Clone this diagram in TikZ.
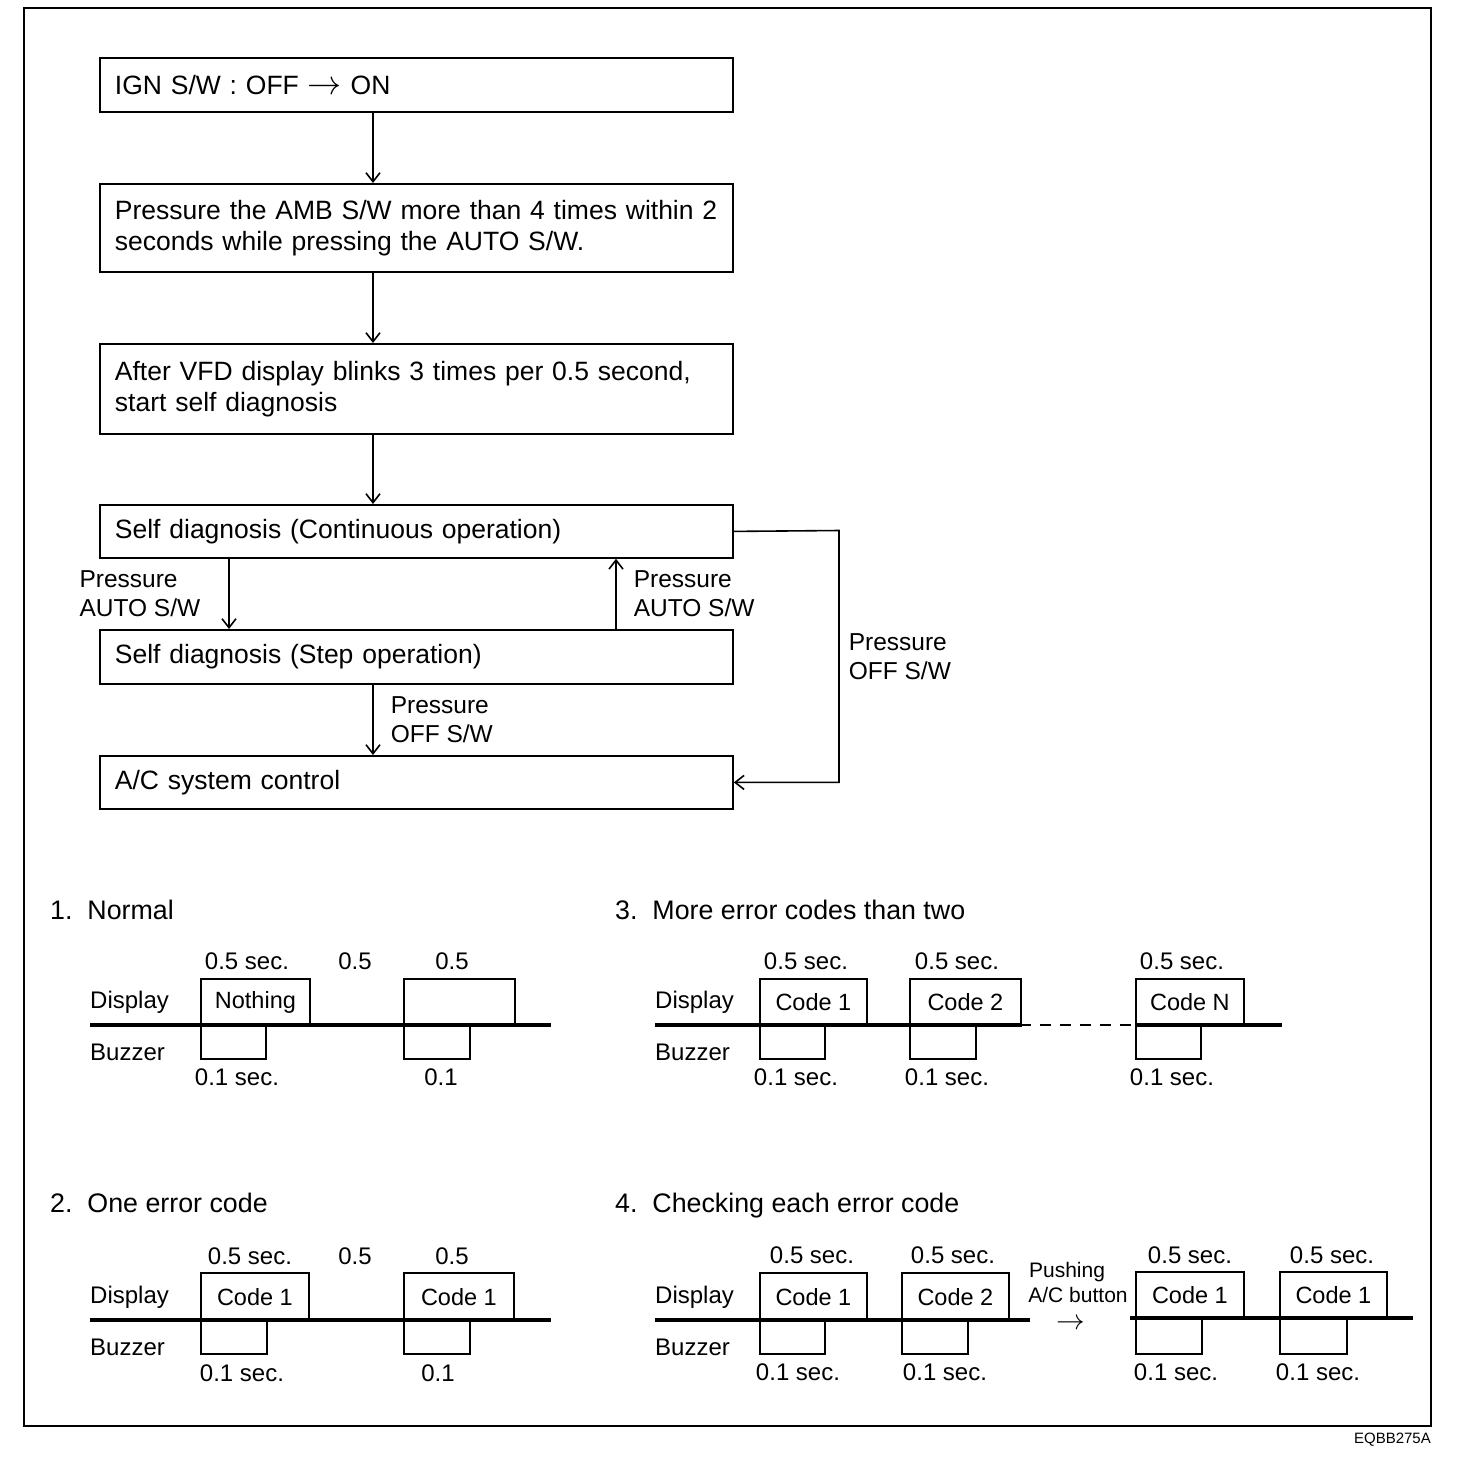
\documentclass[tikz,border=0pt]{standalone}
\usepackage{graphicx}
\usepackage{fontspec}
\setmainfont{Liberation Sans}
\usepackage{tikz}
\usetikzlibrary{arrows.meta,positioning,calc}

\begin{document}
\begin{tikzpicture}[x=1pt,y=-1pt,
  flowbox/.style={rectangle,draw,line width=1.8pt,anchor=north west,minimum height=54pt,text width=603pt,inner xsep=15pt,align=left,font=\fontsize{26.5}{31.5}\selectfont},
  arr/.style={-{Straight Barb[length=9pt,width=14pt,line width=1.6pt]},line width=1.6pt},
  lbl/.style={align=left,inner sep=0pt,font=\fontsize{24.5}{29}\selectfont},
  head/.style={anchor=west,inner sep=0pt,text height=19pt,text depth=0pt,font=\fontsize{26.8}{30}\selectfont},
  tlbl/.style={inner sep=0pt,text height=17pt,text depth=0pt,font=\fontsize{24}{28}\selectfont},
  note/.style={inner sep=0pt,text height=15pt,text depth=0pt,font=\fontsize{21}{25}\selectfont},
  disp/.style={rectangle,draw,line width=1.8pt,anchor=north west,minimum height=47pt,inner sep=0pt,font=\fontsize{23.5}{28}\selectfont},
  buzz/.style={rectangle,draw,line width=1.8pt,anchor=north west,minimum height=33pt,inner sep=0pt},
  axis/.style={line width=3.5pt}
]
\useasboundingbox (0,0) rectangle (1472,1468);
\draw[line width=2pt] (24,8) rectangle (1431,1426);
\node[anchor=east,inner sep=0pt,font=\fontsize{15}{17}\selectfont] (figid) at (1431,1440) {EQBB275A};

\node[flowbox] (ign) at (99,57) {IGN S/W : OFF \scalebox{1.37}{$\rightarrow$} ON};
\node[flowbox,minimum height=88pt] (amb) at (99,183) {Pressure the AMB S/W more than 4 times within 2\\seconds while pressing the AUTO S/W.};
\node[flowbox,minimum height=90pt] (vfd) at (99,343) {After VFD display blinks 3 times per 0.5 second,\\start self diagnosis};
\node[flowbox,minimum height=53pt] (cont) at (99,504) {Self diagnosis (Continuous operation)};
\node[flowbox] (stepop) at (99,629) {Self diagnosis (Step operation)};
\node[flowbox,minimum height=53pt] (acctl) at (99,755) {A/C system control};

\coordinate (mainx) at (373,0);
\coordinate (downx) at (229,0);
\coordinate (upx) at (616,0);
\coordinate (loop) at (839,530.5);

\draw[arr] (ign.south -| mainx) -- (amb.north -| mainx);
\draw[arr] (amb.south -| mainx) -- (vfd.north -| mainx);
\draw[arr] (vfd.south -| mainx) -- (cont.north -| mainx);
\draw[arr] (cont.south -| downx) -- node[lbl,left=28pt] (autodn) {Pressure\\AUTO S/W} (stepop.north -| downx);
\draw[arr] (stepop.north -| upx) -- node[lbl,right=17pt] (autoup) {Pressure\\AUTO S/W} (cont.south -| upx);
\draw[arr] (stepop.south -| mainx) -- node[lbl,right=17pt] (offdn) {Pressure\\OFF S/W} (acctl.north -| mainx);
\draw[arr] (cont.east) -- (loop) -- node[lbl,right=9pt] (offrt) {Pressure\\OFF S/W} (loop |- acctl.east) -- (acctl.east);

\node[head] (h1) at (50,910) {1.~~Normal};
\node[tlbl,anchor=west] (d1) at (90,1000) {Display};
\node[tlbl,anchor=west] (z1) at (90,1052) {Buzzer};
\node[disp,minimum width=109pt] (d1a) at (200,978) {Nothing};
\node[disp,minimum width=111pt] (d1b) at (403,978) {};
\node[buzz,minimum width=65pt] (z1a) at (200,1025) {};
\node[buzz,minimum width=66pt] (z1b) at (403,1025) {};
\draw[axis] (90,1025) -- (551,1025);
\node[tlbl] (t1a) at (247,961) {0.5 sec.};
\node[tlbl] (t1b) at (355,961) {0.5};
\node[tlbl] (t1c) at (452,961) {0.5};
\node[tlbl] (b1a) at (237,1077) {0.1 sec.};
\node[tlbl] (b1b) at (441,1077) {0.1};

\node[head] (h2) at (50,1203) {2.~~One error code};
\node[tlbl,anchor=west] (d2) at (90,1295) {Display};
\node[tlbl,anchor=west] (z2) at (90,1347) {Buzzer};
\node[disp,minimum width=108pt,minimum height=48pt] (d2a) at (200,1272) {Code 1};
\node[disp,minimum width=110pt,minimum height=48pt] (d2b) at (403,1272) {Code 1};
\node[buzz,minimum width=66pt] (z2a) at (200,1320) {};
\node[buzz,minimum width=66pt] (z2b) at (403,1320) {};
\draw[axis] (90,1320) -- (551,1320);
\node[tlbl] (t2a) at (250,1256) {0.5 sec.};
\node[tlbl] (t2b) at (355,1256) {0.5};
\node[tlbl] (t2c) at (452,1256) {0.5};
\node[tlbl] (b2a) at (242,1373) {0.1 sec.};
\node[tlbl] (b2b) at (438,1373) {0.1};

\node[head] (h3) at (615,910) {3.~~More error codes than two};
\node[tlbl,anchor=west] (d3) at (655,1000) {Display};
\node[tlbl,anchor=west] (z3) at (655,1052) {Buzzer};
\node[disp,minimum width=107pt] (d3a) at (759,978) {Code 1};
\node[disp,minimum width=111pt] (d3b) at (909,978) {Code 2};
\node[disp,minimum width=108pt] (d3c) at (1135,978) {Code N};
\node[buzz,minimum width=65pt] (z3a) at (759,1025) {};
\node[buzz,minimum width=66pt] (z3b) at (909,1025) {};
\node[buzz,minimum width=65pt] (z3c) at (1135,1025) {};
\draw[axis] (655,1025) -- (1020,1025);
\draw[line width=2pt,dash pattern=on 11pt off 9pt] (1020,1025) -- (1135,1025);
\draw[axis] (1135,1025) -- (1282,1025);
\foreach \x/\n in {806/a,957/b,1182/c}
  \node[tlbl] (t3\n) at (\x,961) {0.5 sec.};
\foreach \x/\n in {796/a,947/b,1172/c}
  \node[tlbl] (b3\n) at (\x,1077) {0.1 sec.};

\node[head] (h4) at (615,1203) {4.~~Checking each error code};
\node[tlbl,anchor=west] (d4) at (655,1295) {Display};
\node[tlbl,anchor=west] (z4) at (655,1347) {Buzzer};
\node[disp,minimum width=107pt,minimum height=48pt] (d4a) at (759,1272) {Code 1};
\node[disp,minimum width=107pt,minimum height=48pt] (d4b) at (901,1272) {Code 2};
\node[disp,minimum width=108pt] (d4c) at (1135,1271) {Code 1};
\node[disp,minimum width=107pt] (d4d) at (1279,1271) {Code 1};
\node[buzz,minimum width=65pt] (z4a) at (759,1320) {};
\node[buzz,minimum width=66pt] (z4b) at (901,1320) {};
\node[buzz,minimum width=66pt,minimum height=35pt] (z4c) at (1135,1318) {};
\node[buzz,minimum width=67pt,minimum height=35pt] (z4d) at (1279,1318) {};
\draw[axis] (655,1320) -- (1030,1320);
\draw[axis] (1130,1318) -- (1413,1318);
\foreach \x/\n in {812/a,953/b,1190/c,1332/d}
  \node[tlbl] (t4\n) at (\x,1255) {0.5 sec.};
\foreach \x/\n in {798/a,945/b,1176/c,1318/d}
  \node[tlbl] (b4\n) at (\x,1372) {0.1 sec.};
\node[note] (push) at (1067,1270) {Pushing};
\node[note] (acbtn) at (1078,1295) {A/C button};
\node[inner sep=0pt,text height=5pt,text depth=0pt,font=\fontsize{24}{26}\selectfont] (pusharr) at (1071,1327) {\scalebox{1.15}{$\rightarrow$}};
\end{tikzpicture}
\end{document}
